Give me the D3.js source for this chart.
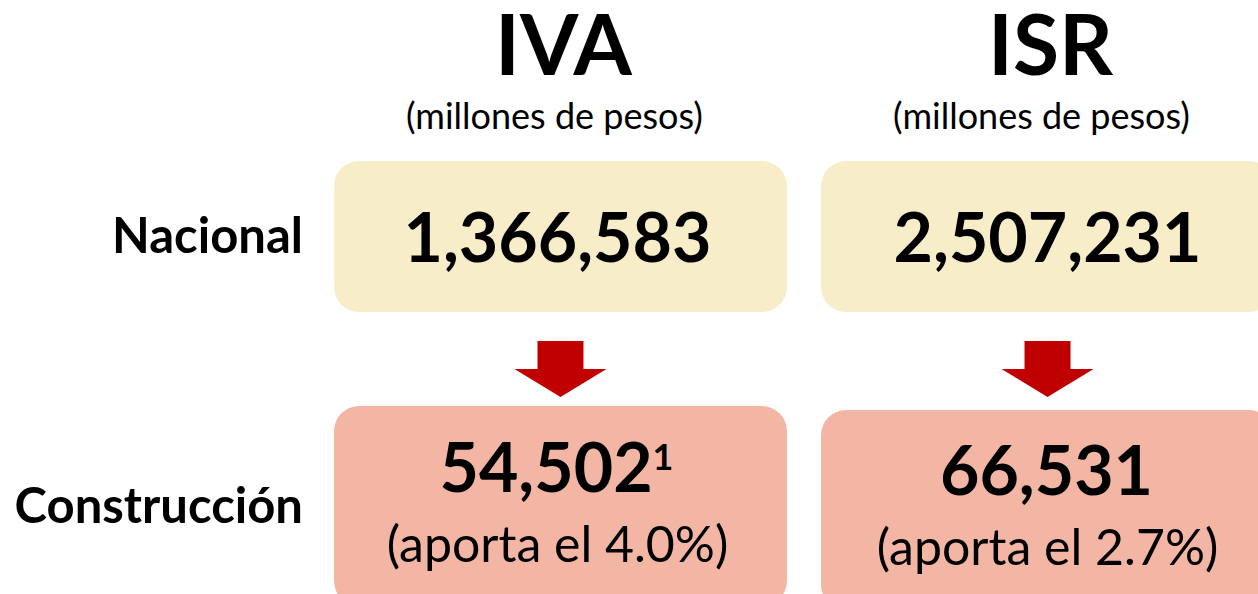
<!DOCTYPE html>
<html>
<head>
<meta charset="utf-8">
<script src="https://cdn.jsdelivr.net/npm/d3@7"></script>
<style>
  html, body { margin: 0; padding: 0; background: #fff; overflow: hidden; }
  text { font-family: Lato, "Open Sans", sans-serif; fill: #000; }
</style>
</head>
<body>
<script>
// data
var taxes = ["IVA", "ISR"];
var unitLabel = "(millones de pesos)";
var rowLabels = ["Nacional", "Construcción"];
var nacional = [1366583, 2507231];
var construccion = [54502, 66531];
var shares = [4.0, 2.7];
var footnotes = ["1", ""];

main();

function main() {
  setupCanvasSize();
  appendSvg("body");
  setupXScale();
  addTitles();
  addRowLabels();
  addBoxes();
  addArrows();
  addValues();
}

function setupCanvasSize() {
  width = 1258;
  height = 594;
  boxTop = { nacional: 161, construccion: 406 };
  boxHeight = { nacional: 151, construccion: 200 };
}

function appendSvg(domElement) {
  svg = d3.select(domElement).append("svg")
    .attr("width", width)
    .attr("height", height);
}

function setupXScale() {
  x = d3.scaleBand()
    .domain(taxes)
    .range([334, 1274])
    .paddingInner(0.07);
}

function cx(d) { return x(d) + x.bandwidth() / 2; }

// big title + units
function addTitles() {
  svg.selectAll(".title")
    .data(taxes)
    .enter().append("text")
    .attr("class", "title")
    .attr("x", function (d) { return cx(d) + 3; })
    .attr("y", 75)
    .attr("text-anchor", "middle")
    .style("font-size", "84px")
    .style("font-weight", "bold")
    .text(function (d) { return d; });

  svg.selectAll(".unit")
    .data(taxes)
    .enter().append("text")
    .attr("class", "unit")
    .attr("x", function (d) { return cx(d) - 6; })
    .attr("y", 129)
    .attr("text-anchor", "middle")
    .style("font-size", "36px")
    .text(unitLabel);
}

function addRowLabels() {
  svg.selectAll(".row")
    .data(rowLabels)
    .enter().append("text")
    .attr("class", "row")
    .attr("x", 303)
    .attr("y", function (d, i) { return i == 0 ? 253 : 523; })
    .attr("text-anchor", "end")
    .style("font-size", "49px")
    .style("font-weight", "bold")
    .text(function (d) { return d; });
}

function addBoxes() {
  svg.selectAll(".boxTop")
    .data(taxes)
    .enter().append("rect")
    .attr("class", "boxTop")
    .attr("x", function (d) { return x(d); })
    .attr("y", boxTop.nacional)
    .attr("width", x.bandwidth())
    .attr("height", boxHeight.nacional)
    .attr("rx", 25)
    .attr("fill", "#F7EDC8");

  svg.selectAll(".boxBottom")
    .data(taxes)
    .enter().append("rect")
    .attr("class", "boxBottom")
    .attr("x", function (d) { return x(d); })
    .attr("y", function (d, i) { return boxTop.construccion + i * 4; })
    .attr("width", x.bandwidth())
    .attr("height", boxHeight.construccion)
    .attr("rx", 25)
    .attr("fill", "#F4B6A4");
}

// down arrows between boxes
function addArrows() {
  function arrow(c) {
    var p = d3.path();
    p.moveTo(c - 23, 341);
    p.lineTo(c + 23, 341);
    p.lineTo(c + 23, 369);
    p.lineTo(c + 46, 369);
    p.lineTo(c, 397);
    p.lineTo(c - 46, 369);
    p.lineTo(c - 23, 369);
    p.closePath();
    return p.toString();
  }
  svg.selectAll(".arrow")
    .data(taxes)
    .enter().append("path")
    .attr("class", "arrow")
    .attr("d", function (d) { return arrow(cx(d)); })
    .attr("fill", "#C00000");
}

function addValues() {
  var fmt = d3.format(",");

  svg.selectAll(".nac")
    .data(nacional)
    .enter().append("text")
    .attr("class", "nac")
    .attr("x", function (d, i) { return cx(taxes[i]) - (i == 0 ? 3 : 0); })
    .attr("y", 262)
    .attr("text-anchor", "middle")
    .style("font-size", "68px")
    .style("font-weight", "bold")
    .text(function (d) { return fmt(d); });

  var con = svg.selectAll(".con")
    .data(construccion)
    .enter().append("text")
    .attr("class", "con")
    .attr("x", function (d, i) { return cx(taxes[i]) - (i == 0 ? 4 : 1); })
    .attr("y", function (d, i) { return 492 + i * 3; })
    .attr("text-anchor", "middle")
    .style("font-size", "68px")
    .style("font-weight", "bold");
  con.append("tspan").text(function (d) { return fmt(d); });
  con.append("tspan")
    .attr("dy", -22)
    .style("font-size", "36px")
    .text(function (d, i) { return footnotes[i]; });

  svg.selectAll(".share")
    .data(shares)
    .enter().append("text")
    .attr("class", "share")
    .attr("x", function (d, i) { return cx(taxes[i]) - (i == 0 ? 3 : 0); })
    .attr("y", function (d, i) { return 562 + i * 3; })
    .attr("text-anchor", "middle")
    .style("font-size", "50px")
    .text(function (d) { return "(aporta el " + d3.format(".1f")(d) + "%)"; });
}
</script>
</body>
</html>
